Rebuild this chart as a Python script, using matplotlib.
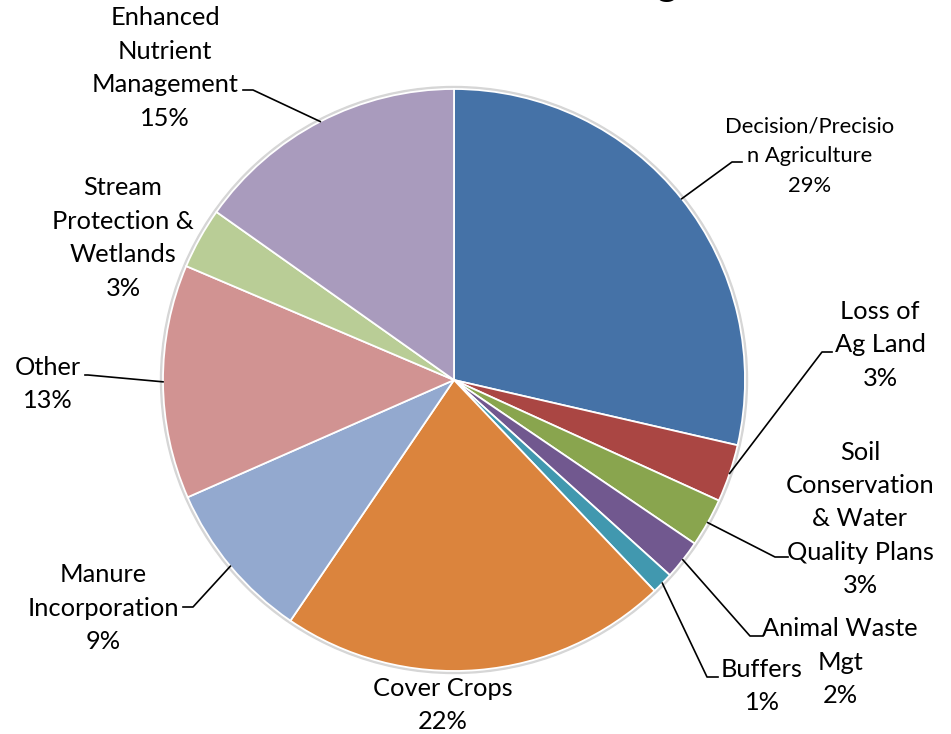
import numpy as np
import matplotlib.pyplot as plt
from matplotlib.patches import Circle

# data, clockwise from 12 o'clock
labels = ["Decision/Precisio\nn Agriculture", "Loss of\nAg Land",
          "Soil\nConservation\n& Water\nQuality Plans", "Animal Waste\nMgt",
          "Buffers", "Cover Crops", "Manure\nIncorporation", "Other",
          "Stream\nProtection &\nWetlands", "Enhanced\nNutrient\nManagement"]
values = [28.6, 3.2, 2.7, 2.2, 1.2, 21.6, 8.9, 13.0, 3.4, 15.2]
colors = ["#4572A7", "#AA4643", "#89A54E", "#71588F", "#4198AF",
          "#DB843D", "#93A9CF", "#D19392", "#B9CD96", "#A99BBD"]

W, H = 951, 734
cx, cy, r = 454, H - 380, 291

# label block centres (pixels from top-left) and leader elbows (x_text, x_elbow, y)
lab_pos = [(810, 156), (880, 345), (860, 519), (840, 662), (762, 686),
           (443, 705), (103, 608), (48, 384), (123, 238), (165, 68)]
leaders = [(742, 732, 162), (832, 822, 352), (788, 775, 557), (763, 750, 636),
           (718, 707, 677), None, (183, 193, 607), (85, 88, 375), None,
           (243, 253, 90)]

plt.rcParams['font.family'] = ['Lato', 'DejaVu Sans']

fig = plt.figure(figsize=(W / 100, H / 100), dpi=100)
ax = fig.add_axes([0, 0, 1, 1])

ax.add_patch(Circle((cx, cy), r + 2.5, color="#d6d6d6", zorder=0))
wedges, _ = ax.pie(values, colors=colors, startangle=90, counterclock=False,
                   center=(cx, cy), radius=r,
                   wedgeprops=dict(edgecolor="white", linewidth=1.3))

for i, w in enumerate(wedges):
    txt = labels[i] + "\n" + f"{round(values[i])}%"
    x, y = lab_pos[i]
    if i == 0:
        fs, ls = 15.8, 1.6
    else:
        fs, ls = 18.3, 1.55
    ax.text(x, H - y, txt, ha="center", va="center", fontsize=fs,
            linespacing=ls, color="black")
    if leaders[i] is not None:
        x0, x1, ly = leaders[i]
        mid = np.deg2rad((w.theta1 + w.theta2) / 2)
        px, py = cx + r * np.cos(mid), cy + r * np.sin(mid)
        ax.plot([x0, x1, px], [H - ly, H - ly, py], color="black", lw=1.2)

# title, almost entirely above the visible area
fig.text(667 / W, 1 + 3.5 / H, "g", ha="center", va="baseline",
         fontsize=28, fontweight="bold")

ax.set_xlim(0, W)
ax.set_ylim(0, H)
ax.set_aspect("auto")
ax.axis("off")

fig.savefig("out.png", dpi=100)
